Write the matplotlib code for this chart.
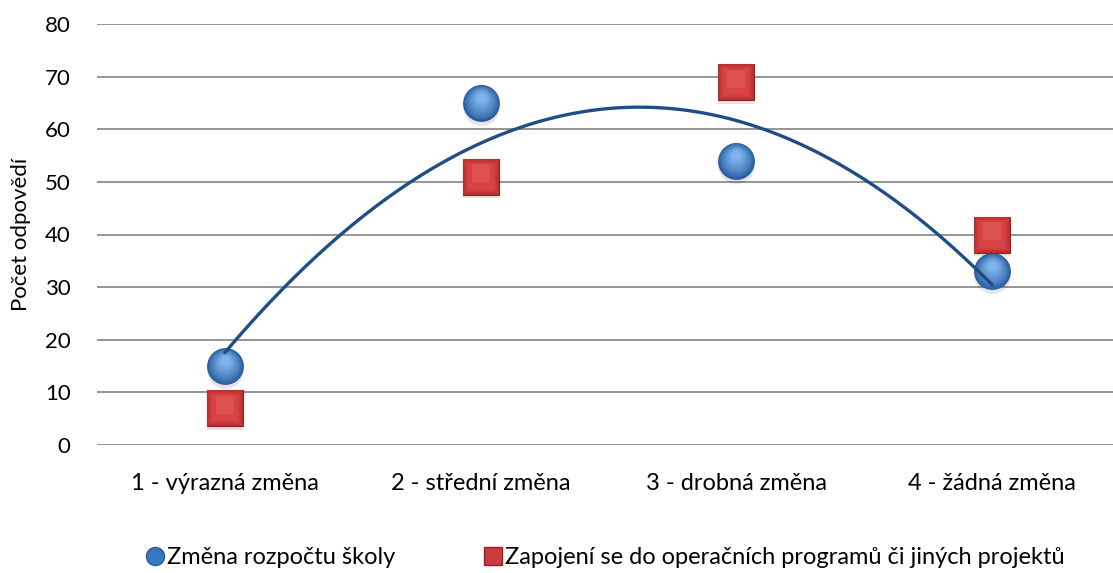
import numpy as np
import matplotlib.pyplot as plt
from matplotlib.lines import Line2D
from matplotlib.colors import to_rgb

plt.rcParams["font.family"] = ["Lato", "DejaVu Sans"]

# data
categories = ["1 - výrazná změna", "2 - střední změna", "3 - drobná změna", "4 - žádná změna"]
budget = [15, 65, 54, 33]        # Změna rozpočtu školy
projects = [7, 51, 69, 40]       # Zapojení se do operačních programů či jiných projektů
y_ticks = [0, 10, 20, 30, 40, 50, 60, 70, 80]

label_budget = "Změna rozpočtu školy"
label_projects = "Zapojení se do operačních programů či jiných projektů"

x = np.arange(1, len(categories) + 1)


def blend(c1, c2, t):
    a, b = np.array(to_rgb(c1)), np.array(to_rgb(c2))
    return tuple(a + (b - a) * t)


fig = plt.figure(figsize=(11.13, 5.73), dpi=100)
ax = fig.add_axes([97 / 1113, 1 - 445 / 573, (1120 - 97) / 1113, (445 - 24) / 573])

# grid
for t in y_ticks:
    ax.axhline(t, color="#8c8c8c", linewidth=1.3, zorder=0)

# polynomial (order 2) trendline of the first series
coef = np.polyfit(x, budget, 2)
xs = np.linspace(x[0], x[-1], 200)
ax.plot(xs, np.polyval(coef, xs), color="#1f4e85", linewidth=2.4, zorder=3,
        solid_capstyle="round")

ms = 26.5

# soft shadows
ax.plot(x, np.array(budget) - 0.7, "o", ms=ms, color="#000000", alpha=0.10,
        markeredgewidth=0, zorder=1)
ax.plot(x, np.array(projects) - 0.7, "s", ms=ms, color="#000000", alpha=0.10,
        markeredgewidth=0, zorder=1)

# blue spheres - stacked circles for a radial gradient
n = 14
for i in range(n):
    t = i / (n - 1)
    size = ms * (1 - 0.75 * t)
    off = 1.1 * t
    ax.plot(x, np.array(budget) + off, "o", ms=size,
            color=blend("#285a9e", "#7db4ee", t ** 0.8),
            markeredgewidth=0, zorder=2)

# red bevelled squares
ax.plot(x, projects, "s", ms=ms, color="#9e2628", markeredgecolor="#8a2224",
        markeredgewidth=0.8, zorder=4)
for i in range(8):
    t = i / 7
    size = ms * (0.97 - 0.3 * t)
    ax.plot(x, projects, "s", ms=size,
            color=blend("#bb2f31", "#d84446", t),
            markeredgewidth=0, zorder=4)
ax.plot(x, np.array(projects) + 0.6, "s", ms=ms * 0.5, color="#e05a5a",
        markeredgewidth=0, alpha=0.6, zorder=4)

ax.set_xlim(0.5, 4.5)
ax.set_ylim(0, 80)
ax.set_yticks(y_ticks)
ax.set_xticks(x)
ax.set_xticklabels(categories)
ax.tick_params(axis="both", length=0, labelsize=16, colors="#000000")
ax.tick_params(axis="x", labelsize=17)
ax.tick_params(axis="y", pad=19)
ax.tick_params(axis="x", pad=20)
for s in ax.spines.values():
    s.set_visible(False)

ax.set_ylabel("Počet odpovědí", fontsize=16, labelpad=10)

handles = [
    Line2D([], [], marker="o", linestyle="none", ms=13, color="#3b76c2",
           markeredgecolor="#2a5894"),
    Line2D([], [], marker="s", linestyle="none", ms=13, color="#cc3b3d",
           markeredgecolor="#8f2325"),
]
fig.legend(handles, [label_budget, label_projects], loc="center",
           bbox_to_anchor=(606 / 1113, 1 - 558 / 573), ncol=2, frameon=False,
           fontsize=17, handlelength=0.7, handletextpad=0.15, columnspacing=3.8)

fig.savefig("out.png", dpi=100)
